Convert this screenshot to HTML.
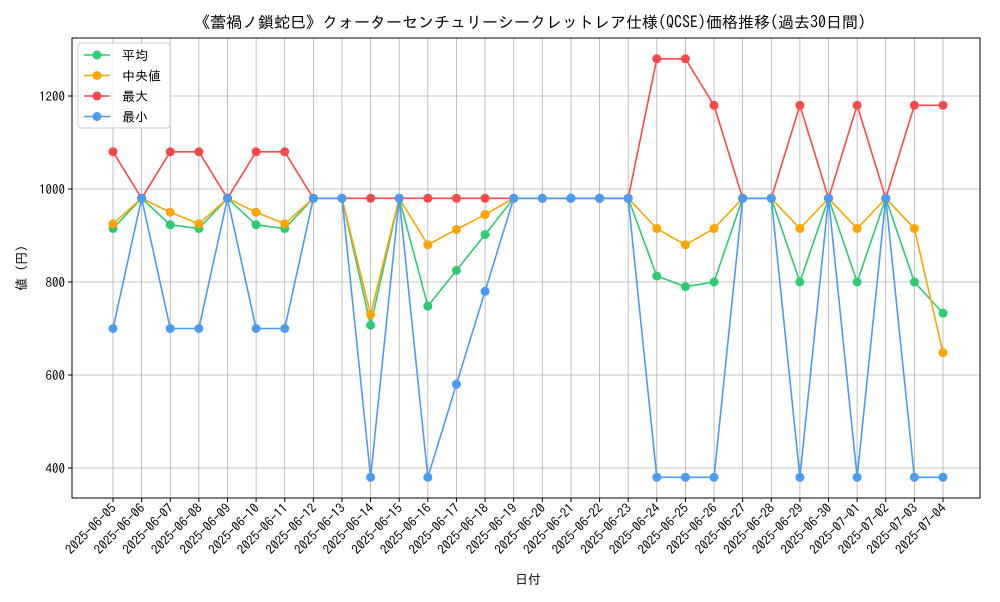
<!DOCTYPE html>
<html><head><meta charset="utf-8"><style>
body{margin:0;background:#fff;font-family:"IPAGothic","Liberation Sans",sans-serif}
svg text{font-family:"IPAGothic","Noto Sans CJK JP",sans-serif}
</style></head><body>
<svg id="chart" width="1000" height="600" viewBox="0 0 1000 600">
<rect width="1000" height="600" fill="#fff"/>
<text x="530" y="28" font-size="16" text-anchor="middle">《蕾禍ノ鎖蛇巳》クォーターセンチュリーシークレットレア仕様(QCSE)価格推移(過去30日間)</text>
<g id="grid"></g>
<g id="series"></g>
<rect x="72" y="38" width="908" height="460" fill="none" stroke="#000" stroke-width="1"/>
<g id="axes"></g>
<text x="528" y="584" font-size="13" text-anchor="middle">日付</text>
<text transform="translate(26,268) rotate(-90)" font-size="13" text-anchor="middle">値 (円)</text>
<g id="legend"></g>
</svg>
<script>
const dates=["2025-06-05","2025-06-06","2025-06-07","2025-06-08","2025-06-09","2025-06-10","2025-06-11","2025-06-12","2025-06-13","2025-06-14","2025-06-15","2025-06-16","2025-06-17","2025-06-18","2025-06-19","2025-06-20","2025-06-21","2025-06-22","2025-06-23","2025-06-24","2025-06-25","2025-06-26","2025-06-27","2025-06-28","2025-06-29","2025-06-30","2025-07-01","2025-07-02","2025-07-03","2025-07-04"];
const meanVals=[915,980,923,915,980,923,915,980,980,707,980,748,825,902,980,980,980,980,980,813,790,800,980,980,800,980,800,980,800,733];
const medianVals=[925,980,950,925,980,950,925,980,980,730,980,880,913,945,980,980,980,980,980,915,880,915,980,980,915,980,915,980,915,648];
const maxVals=[1080,980,1080,1080,980,1080,1080,980,980,980,980,980,980,980,980,980,980,980,980,1280,1280,1180,980,980,1180,980,1180,980,1180,1180];
const minVals=[700,980,700,700,980,700,700,980,980,380,980,380,580,780,980,980,980,980,980,380,380,380,980,980,380,980,380,980,380,380];
const yTicks=[400,600,800,1000,1200];
const seriesNames=["平均","中央値","最大","最小"];

const NS="http://www.w3.org/2000/svg";
function X(i){return 113+i*(943-113)/(dates.length-1);}
function Y(v){return 189-(v-1000)*0.465;}
function mk(tag,attrs,parent){const e=document.createElementNS(NS,tag);for(const k in attrs)e.setAttribute(k,attrs[k]);parent.appendChild(e);return e;}
const grid=document.getElementById('grid'),axes=document.getElementById('axes'),ser=document.getElementById('series'),leg=document.getElementById('legend');
dates.forEach((d,i)=>{
  const x=X(i);
  const gl=mk('line',{x1:x,x2:x,y1:38,y2:498,stroke:'#b0b0b0','stroke-width':0.8},grid);
  
  
  const tk=mk('line',{x1:x,x2:x,y1:498,y2:502,stroke:'#000'},axes);
  
  
  const t=mk('text',{x:x+4,y:509,'font-size':13,'text-anchor':'end',transform:`rotate(-45 ${x+4} 509)`},axes);
  t.textContent=d;
  
  
});
yTicks.forEach(v=>{
  const y=Y(v);
  const gl=mk('line',{x1:72,x2:980,y1:y,y2:y,stroke:'#b0b0b0','stroke-width':0.8},grid);
  
  
  const tk=mk('line',{x1:68,x2:72,y1:y,y2:y,stroke:'#000'},axes);
  
  
  const t=mk('text',{x:65,y:y+5,'font-size':13,'text-anchor':'end'},axes);
  t.textContent=v;
  
  
});
const all=[meanVals,medianVals,maxVals,minVals];
const colors=["#2ecc71","#ffa500","#ff4848","#4a9bf5"];
const keys=["mean","median","max","min"];
all.forEach((vals,s)=>{
  const g=mk('g',{},ser);
  
  
  const p=mk('polyline',{points:vals.map((v,i)=>X(i)+','+Y(v)).join(' '),fill:'none',stroke:colors[s],'stroke-width':1.6},g);
  
  
  vals.forEach((v,i)=>{
    const c=mk('circle',{cx:X(i),cy:Y(v),r:4.5,fill:colors[s]},g);
    
    
  });
  const ly=55+s*20.5;
  const lg=mk('g',{},leg);
  
  
  mk('line',{x1:84,x2:110,y1:ly,y2:ly,stroke:colors[s],'stroke-width':1.6},lg);
  mk('circle',{cx:97,cy:ly,r:4.5,fill:colors[s]},lg);
  const t=mk('text',{x:122,y:ly+5,'font-size':13},lg);
  t.textContent=seriesNames[s];
});
const box=mk('rect',{x:78,y:43,width:92,height:85,fill:'#fff','fill-opacity':0.8,stroke:'#ccc',rx:3},leg);


leg.insertBefore(box,leg.firstChild);
</script>
</body></html>
